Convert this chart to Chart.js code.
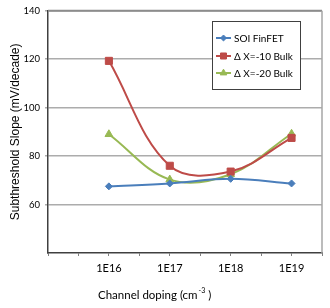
<!DOCTYPE html>
<html>
<head>
<meta charset="utf-8">
<script src="https://cdn.jsdelivr.net/npm/chart.js@4/dist/chart.umd.min.js"></script>
<style>
html,body{margin:0;padding:0;background:#fff;}
#wrap{width:330px;height:308px;position:relative;}
</style>
</head>
<body>
<div id="wrap"><canvas id="c" width="330" height="308"></canvas></div>
<script>
// ---- data ----
const categories = ['1E16', '1E17', '1E18', '1E19'];
const exponents = [16, 17, 18, 19];
const seriesNames = ['SOI FinFET', '\u0394 X=-10 Bulk', '\u0394 X=-20 Bulk'];
const soiFinFET = [67.5, 68.7, 70.6, 68.7];
const dx10Bulk = [119.3, 76, 73.6, 87.5];
const dx20Bulk = [89, 70.3, 72.5, 89.2];
const yTicks = [60, 80, 100, 120, 140];
const xTitle = 'Channel doping (cm';
const xTitleSup = '-3';
const yTitle = 'Subthreshold Slope (mV/decade)';

const colors = ['#4A7EBB', '#BE4B48', '#98B954'];
const styles = ['rectRot', 'rect', 'triangle'];
const radii = [3.5, 5, 4.5];

function pts(vals){ return vals.map((v,i)=>({x: exponents[i], y: v})); }
const seriesVals = [soiFinFET, dx10Bulk, dx20Bulk];

const NARROW = "Lato, 'Liberation Sans', Arial, sans-serif";

function drawMarker(ctx, style, r, x, y, color){
  ctx.save();
  ctx.fillStyle = color; ctx.strokeStyle = color; ctx.lineWidth = 1;
  ctx.beginPath();
  if (style === 'rect') {
    const s = Math.SQRT1_2 * r;
    ctx.rect(x - s, y - s, 2*s, 2*s);
  } else if (style === 'rectRot') {
    ctx.moveTo(x - r, y); ctx.lineTo(x, y - r); ctx.lineTo(x + r, y); ctx.lineTo(x, y + r); ctx.closePath();
  } else {
    ctx.moveTo(x, y - r);
    ctx.lineTo(x + r*Math.cos(Math.PI/6), y + r*Math.sin(Math.PI/6));
    ctx.lineTo(x - r*Math.cos(Math.PI/6), y + r*Math.sin(Math.PI/6));
    ctx.closePath();
  }
  ctx.fill(); ctx.stroke();
  ctx.restore();
}

const decor = {
  id: 'decor',
  afterDatasetsDraw(chart){
    const ctx = chart.ctx, a = chart.chartArea;
    ctx.save();
    // plot border top & right
    ctx.strokeStyle = '#8C8C8C'; ctx.lineWidth = 2;
    ctx.beginPath(); ctx.moveTo(a.left, a.top); ctx.lineTo(a.right, a.top); ctx.stroke();
    ctx.strokeStyle = '#A6A6A6'; ctx.lineWidth = 1.5;
    ctx.beginPath(); ctx.moveTo(a.right, a.top); ctx.lineTo(a.right, a.bottom); ctx.stroke();
    // legend
    const lx = 212, ly = 21, lw = 88, lh = 68;
    ctx.fillStyle = '#fff'; ctx.fillRect(lx, ly, lw, lh);
    ctx.strokeStyle = '#404040'; ctx.lineWidth = 1;
    ctx.strokeRect(lx + 0.5, ly + 0.5, lw, lh);
    const rows = [38, 56, 73];
    ctx.font = "10px " + NARROW;
    ctx.textBaseline = 'middle'; ctx.textAlign = 'left';
    for (let i = 0; i < 3; i++) {
      ctx.strokeStyle = colors[i]; ctx.lineWidth = 2;
      ctx.beginPath(); ctx.moveTo(216, rows[i]); ctx.lineTo(231, rows[i]); ctx.stroke();
      drawMarker(ctx, styles[i], radii[i]*0.85, 223.5, rows[i], colors[i]);
      ctx.fillStyle = '#000';
      ctx.fillText(seriesNames[i], 234, rows[i] + 0.5);
    }
    // x title with superscript
    ctx.fillStyle = '#000';
    ctx.font = "11.5px " + NARROW;
    ctx.textBaseline = 'alphabetic';
    const tx = 98, ty = 299;
    ctx.fillText(xTitle, tx, ty);
    const w = ctx.measureText(xTitle).width;
    ctx.font = "7px " + NARROW;
    ctx.fillText(xTitleSup, tx + w + 1, ty - 6);
    const w2 = ctx.measureText(xTitleSup).width;
    ctx.font = "11.5px " + NARROW;
    ctx.fillText(' )', tx + w + 1 + w2, ty);
    ctx.restore();
  }
};

new Chart(document.getElementById('c'), {
  type: 'line',
  data: {
    datasets: seriesVals.map((vals, i) => ({
      label: seriesNames[i],
      data: pts(vals),
      borderColor: colors[i],
      backgroundColor: colors[i],
      borderWidth: 2,
      pointStyle: styles[i],
      pointRadius: radii[i],
      pointBorderWidth: 1,
      tension: 0.37,
      fill: false
    }))
  },
  plugins: [decor],
  options: {
    responsive: false,
    animation: false,
    devicePixelRatio: 1,
    layout: { padding: { top: 10, right: 8, left: 0, bottom: 0 } },
    plugins: { legend: { display: false }, tooltip: { enabled: false } },
    scales: {
      x: {
        type: 'linear',
        min: 15, max: 19.5,
        afterFit(s){ s.height = 55; },
        afterBuildTicks(s){ const t=[]; for (let v=15; v<=19.5; v+=0.5) t.push({value:v}); s.ticks = t; },
        ticks: {
          autoSkip: false, maxRotation: 0,
          padding: 6,
          color: '#000',
          font: { family: NARROW, size: 11 },
          callback(v){ const i = exponents.indexOf(v); return i >= 0 ? categories[i] : ''; }
        },
        grid: { drawOnChartArea: false, drawTicks: true, tickLength: 3, color: '#808080', lineWidth: 1 },
        border: { color: '#404040', width: 1.5 }
      },
      y: {
        min: 40, max: 140,
        afterFit(s){ s.width = 48; },
        afterBuildTicks(s){ s.ticks = [40].concat(yTicks).map(v=>({value:v})); },
        ticks: {
          padding: 5,
          color: '#000',
          font: { family: NARROW, size: 9.5 },
          callback(v){ return yTicks.includes(v) ? String(v) : ''; }
        },
        grid: {
          drawTicks: true, tickLength: 3,
          color(c){ return c.tick && c.tick.value === 40 ? 'rgba(0,0,0,0)' : '#ACACAC'; },
          lineWidth: 1.5
        },
        border: { color: '#404040', width: 1.5 },
        title: {
          display: true, text: yTitle, color: '#000',
          font: { family: "'Liberation Sans', Arial, sans-serif", size: 12 },
          padding: { top: 8, bottom: 4 }
        }
      }
    }
  }
});
</script>
</body>
</html>
